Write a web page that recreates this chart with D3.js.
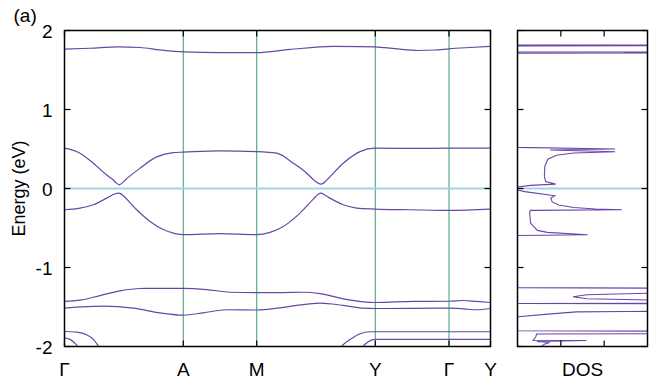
<!DOCTYPE html>
<html>
<head>
<meta charset="utf-8">
<script src="https://cdn.jsdelivr.net/npm/d3@7"></script>
<style>
  html, body { margin: 0; padding: 0; background: #fff; }
  svg { display: block; }
  text { font-family: "Liberation Sans", Arial, Helvetica, sans-serif; fill: #000; }
</style>
</head>
<body>
<svg id="chart" width="665" height="387"></svg>
<script>
// ---------- data ----------
const kTicks = [0, 1.188, 1.922, 3.108, 3.845, 4.26];
const kLabels = ["Γ", "A", "M", "Y", "Γ", "Y"];
const energyTicks = [-2, -1, 0, 1, 2];
const energyLabels = ["-2", "-1", "0", "1", "2"];
const dosTicks = [1, 2];

// bands: [k, E(eV)]
const band1 = [[0,1.764],[0.255,1.775],[0.535,1.793],[0.755,1.785],[0.955,1.755],[1.188,1.73],[1.555,1.72],[1.922,1.72],[2.255,1.76],[2.685,1.798],[2.955,1.797],[3.108,1.793],[3.305,1.77],[3.535,1.747],[3.705,1.753],[3.845,1.768],[4.055,1.785],[4.26,1.80]];
const band2 = [[0,0.51],[0.155,0.447],[0.288,0.32],[0.422,0.17],[0.485,0.11],[0.52,0.068],[0.548,0.047],[0.575,0.068],[0.61,0.11],[0.755,0.257],[0.922,0.40],[1.088,0.455],[1.188,0.46],[1.555,0.476],[1.922,0.467],[2.122,0.447],[2.288,0.32],[2.422,0.194],[2.50,0.10],[2.535,0.068],[2.562,0.055],[2.59,0.068],[2.625,0.11],[2.788,0.32],[2.955,0.467],[3.108,0.51],[3.455,0.508],[3.845,0.51],[4.26,0.51]];
const band3 = [[0,-0.269],[0.155,-0.248],[0.288,-0.206],[0.422,-0.122],[0.505,-0.067],[0.542,-0.058],[0.565,-0.068],[0.588,-0.092],[0.722,-0.269],[0.855,-0.417],[0.988,-0.52],[1.105,-0.572],[1.188,-0.585],[1.555,-0.572],[1.922,-0.585],[2.055,-0.556],[2.188,-0.48],[2.355,-0.311],[2.488,-0.134],[2.535,-0.075],[2.565,-0.058],[2.60,-0.08],[2.655,-0.122],[2.788,-0.206],[2.922,-0.248],[3.108,-0.26],[3.455,-0.269],[3.845,-0.278],[4.26,-0.26]];
const band4 = [[0,-1.43],[0.155,-1.414],[0.355,-1.355],[0.555,-1.296],[0.755,-1.266],[1.188,-1.263],[1.422,-1.279],[1.655,-1.313],[1.922,-1.317],[2.155,-1.317],[2.388,-1.313],[2.555,-1.33],[2.788,-1.397],[2.988,-1.434],[3.108,-1.443],[3.488,-1.43],[3.845,-1.427],[3.988,-1.418],[4.122,-1.43],[4.26,-1.443]];
const band5 = [[0,-1.515],[0.388,-1.49],[0.688,-1.515],[0.955,-1.574],[1.188,-1.603],[1.388,-1.574],[1.622,-1.535],[1.922,-1.538],[2.155,-1.51],[2.322,-1.48],[2.555,-1.452],[2.788,-1.48],[2.988,-1.515],[3.108,-1.519],[3.845,-1.515],[3.988,-1.523],[4.122,-1.535],[4.26,-1.519]];
const band6 = [[0,-1.81],[0.122,-1.818],[0.222,-1.851],[0.288,-1.91],[0.338,-1.995],[0.37,-2.08]];
const band7 = [[0,-1.889],[0.055,-1.91],[0.105,-1.96],[0.128,-1.995],[0.15,-2.06]];
const band8 = [[2.72,-2.08],[2.772,-1.995],[2.855,-1.91],[2.955,-1.838],[3.055,-1.813],[3.108,-1.813],[3.845,-1.813],[4.26,-1.813]];
const band9 = [[2.95,-2.08],[2.988,-1.995],[3.038,-1.94],[3.088,-1.914],[3.108,-1.91],[4.26,-1.91]];
const bands = [band1, band2, band3, band4, band5, band6, band7, band8, band9];

// density of states: [E(eV), DOS]
const dosCurve = [[2.0,0],[1.82,0],[1.812,6],[1.806,0],[1.73,0],[1.726,6],[1.722,2.45],[1.718,6],[1.712,0],
  [0.52,0],[0.50,2.25],[0.487,0.75],[0.465,2.25],[0.45,1.3],[0.42,0.9],[0.37,0.7],[0.28,0.63],[0.15,0.62],[0.088,0.65],[0.055,0.88],[0.04,0.3],[0.02,0],
  [-0.02,0],[-0.04,0.17],[-0.092,0.86],[-0.12,0.77],[-0.17,0.8],[-0.21,0.95],[-0.24,1.3],[-0.26,1.8],[-0.269,2.41],[-0.277,0.3],[-0.30,0.28],[-0.437,0.3],[-0.53,0.46],[-0.555,0.69],[-0.585,1.62],[-0.595,0],
  [-1.255,0],[-1.268,6],[-1.31,6],[-1.325,3],[-1.345,1.6],[-1.37,1.28],[-1.395,1.6],[-1.412,3],[-1.42,6],[-1.45,6],[-1.455,0.02],[-1.46,6],[-1.55,6],[-1.557,2.5],[-1.562,1.36],[-1.59,0.7],[-1.624,0.02],[-1.63,0],
  [-1.80,0],[-1.81,6],[-1.835,6],[-1.842,0.44],[-1.88,0.42],[-1.92,0.36],[-1.925,1.59],[-1.935,0.45],[-1.95,0.74],[-1.97,0.62],[-2.0,0.55]];

// ---------- layout ----------
const main = {x0: 64.5, x1: 490.5, y0: 30.5, y1: 346.5};
const dosP = {x0: 517.5, x1: 647.5};
const bandColor = "#6b45a6";
const vlineColor = "#5aab90";
const fermiColor = "#a3d3e6";

const svg = d3.select("#chart");
const x = d3.scaleLinear().domain([kTicks[0], kTicks[kTicks.length-1]]).range([main.x0, main.x1]);
const y = d3.scaleLinear().domain([-2, 2]).range([main.y1, main.y0]);
const xd = d3.scaleLinear().domain([0, 3]).range([dosP.x0, dosP.x1]);

const defs = svg.append("defs");
defs.append("clipPath").attr("id", "clipMain").append("rect")
  .attr("x", main.x0).attr("y", main.y0).attr("width", main.x1 - main.x0).attr("height", main.y1 - main.y0);
defs.append("clipPath").attr("id", "clipDos").append("rect")
  .attr("x", dosP.x0).attr("y", main.y0).attr("width", dosP.x1 - dosP.x0).attr("height", main.y1 - main.y0);

// vertical high-symmetry lines
svg.append("g").selectAll("line").data(kTicks.slice(1, -1)).join("line")
  .attr("x1", d => x(d)).attr("x2", d => x(d)).attr("y1", main.y0).attr("y2", main.y1)
  .attr("stroke", vlineColor).attr("stroke-width", 1.2);

// Fermi level
svg.append("line").attr("x1", main.x0).attr("x2", main.x1).attr("y1", y(0)).attr("y2", y(0))
  .attr("stroke", fermiColor).attr("stroke-width", 2);
svg.append("line").attr("x1", dosP.x0).attr("x2", dosP.x1).attr("y1", y(0)).attr("y2", y(0))
  .attr("stroke", fermiColor).attr("stroke-width", 2);

// bands
const line = d3.line().x(d => x(d[0])).y(d => y(d[1])).curve(d3.curveMonotoneX);
svg.append("g").attr("clip-path", "url(#clipMain)").selectAll("path").data(bands).join("path")
  .attr("d", line).attr("fill", "none").attr("stroke", bandColor).attr("stroke-width", 1.2);

// DOS
const dline = d3.line().x(d => xd(d[1])).y(d => y(d[0]));
svg.append("g").attr("clip-path", "url(#clipDos)").append("path")
  .attr("d", dline(dosCurve)).attr("fill", "none").attr("stroke", bandColor).attr("stroke-width", 1.1);

// frames
function frame(x0, x1) {
  svg.append("rect").attr("x", x0).attr("y", main.y0).attr("width", x1 - x0).attr("height", main.y1 - main.y0)
    .attr("fill", "none").attr("stroke", "#000").attr("stroke-width", 1.5);
}
frame(main.x0, main.x1);
frame(dosP.x0, dosP.x1);

const tl = 6;
const tickG = svg.append("g").attr("stroke", "#000").attr("stroke-width", 1.2);
[[main.x0, main.x1], [dosP.x0, dosP.x1]].forEach(([a, b]) => {
  energyTicks.forEach(e => {
    tickG.append("line").attr("x1", a).attr("x2", a + tl).attr("y1", y(e)).attr("y2", y(e));
    tickG.append("line").attr("x1", b).attr("x2", b - tl).attr("y1", y(e)).attr("y2", y(e));
  });
});
kTicks.forEach(k => {
  tickG.append("line").attr("x1", x(k)).attr("x2", x(k)).attr("y1", main.y0).attr("y2", main.y0 + tl);
  tickG.append("line").attr("x1", x(k)).attr("x2", x(k)).attr("y1", main.y1).attr("y2", main.y1 - tl);
});
dosTicks.forEach(v => {
  tickG.append("line").attr("x1", xd(v)).attr("x2", xd(v)).attr("y1", main.y0).attr("y2", main.y0 + tl);
  tickG.append("line").attr("x1", xd(v)).attr("x2", xd(v)).attr("y1", main.y1).attr("y2", main.y1 - tl);
});

// labels
const fs = 19;
svg.append("g").selectAll("text").data(energyTicks).join("text")
  .attr("x", 52.5).attr("y", d => y(d) + 7).attr("text-anchor", "end").attr("font-size", fs)
  .text((d, i) => energyLabels[i]);
svg.append("g").selectAll("text").data(kTicks).join("text")
  .attr("x", d => x(d)).attr("y", 376).attr("text-anchor", "middle").attr("font-size", fs)
  .text((d, i) => kLabels[i]);
svg.append("text").attr("x", (dosP.x0 + dosP.x1) / 2).attr("y", 376).attr("text-anchor", "middle")
  .attr("font-size", fs).text("DOS");
svg.append("text").attr("transform", `translate(25,${y(0)}) rotate(-90)`).attr("text-anchor", "middle")
  .attr("font-size", 18).text("Energy (eV)");
svg.append("text").attr("x", 13.5).attr("y", 22).attr("font-size", fs).text("(a)");
</script>
</body>
</html>
